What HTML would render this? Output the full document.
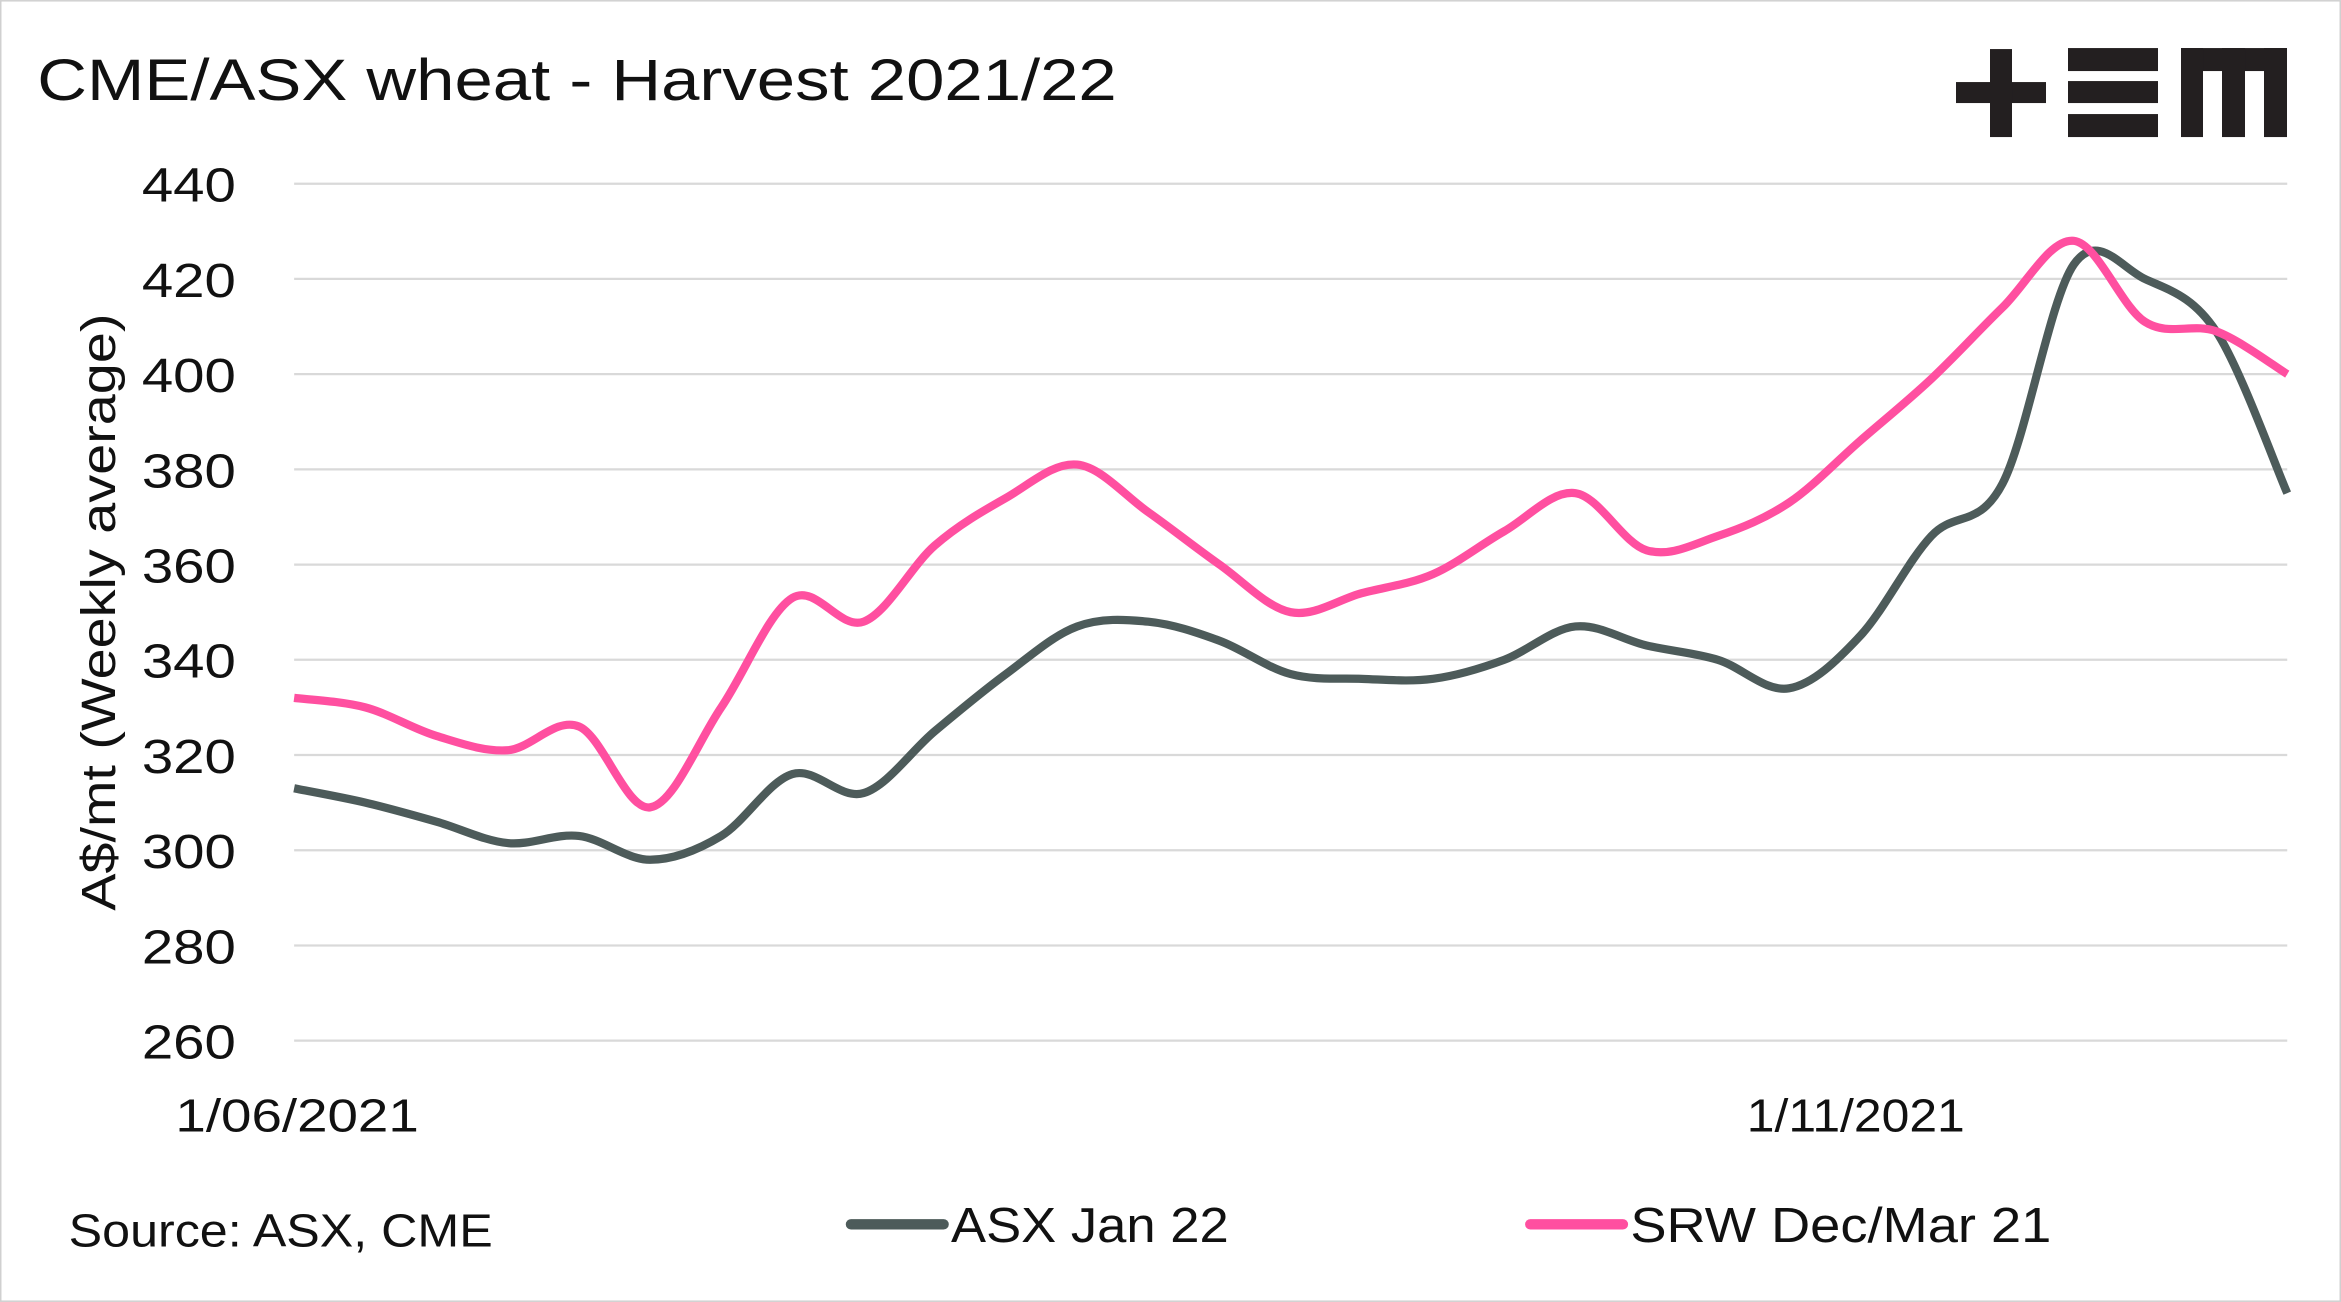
<!DOCTYPE html>
<html><head><meta charset="utf-8"><style>
html,body{margin:0;padding:0;background:#fff}
svg{display:block}
text{font-family:"Liberation Sans",sans-serif;fill:#111}
</style></head><body>
<svg id="chart" width="2341" height="1302" viewBox="0 0 1568 872" xmlns="http://www.w3.org/2000/svg">
<rect x="0.5" y="0.5" width="1567" height="871" fill="#fff" stroke="#d0d0d0"/>
<text x="25" y="67" font-size="39" textLength="723" lengthAdjust="spacingAndGlyphs">CME/ASX wheat - Harvest 2021/22</text>
<g transform="scale(0.66980)" fill="#231f20">
<rect x="1956" y="82" width="90" height="21"/><rect x="1990" y="49" width="22" height="88"/>
<rect x="2068" y="48" width="90" height="23"/><rect x="2068" y="81" width="90" height="22"/><rect x="2068" y="114" width="90" height="23"/>
<rect x="2181" y="48" width="106" height="23"/><rect x="2181" y="48" width="22" height="89"/><rect x="2222" y="48" width="23" height="89"/><rect x="2264" y="48" width="23" height="89"/>
</g>
<g id="grid"></g><g id="yticks"></g><g id="series"></g>
<text transform="translate(77,410) rotate(-90)" text-anchor="middle" font-size="32" textLength="400" lengthAdjust="spacingAndGlyphs">A$/mt (Weekly average)</text>
<text x="199" y="758" text-anchor="middle" font-size="31" textLength="163" lengthAdjust="spacingAndGlyphs">1/06/2021</text>
<text x="1243" y="758" text-anchor="middle" font-size="31" textLength="146" lengthAdjust="spacingAndGlyphs">1/11/2021</text>
<text x="46" y="835" font-size="31" textLength="284" lengthAdjust="spacingAndGlyphs">Source: ASX, CME</text>
<g><line x1="570" y1="820" x2="632" y2="820" stroke="#4d5b5a" stroke-width="7" stroke-linecap="round"/><text x="637" y="832" font-size="33" textLength="186" lengthAdjust="spacingAndGlyphs">ASX Jan 22</text></g>
<g><line x1="1025" y1="820" x2="1087" y2="820" stroke="#ff4fa0" stroke-width="7" stroke-linecap="round"/><text x="1092" y="832" font-size="33" textLength="282" lengthAdjust="spacingAndGlyphs">SRW Dec/Mar 21</text></g>
</svg>
<script>
const yTicks=[260,280,300,320,340,360,380,400,420,440];
const asx=[313,310,306,301.5,303,298,303,316,312,325,337,347,348,344,337,336,336,340,347,343,340,334,345,366,377,423,420,409,375];
const srw=[332,330,324,321,326,309,330,353,348,364,374,381,371,360,350,354,358,367,375,363,366,373,386,399,414,428,411,409,400];
const X0=197,X1=1532,Y0=697,Y1=123;
const x=i=>X0+(X1-X0)*i/(asx.length-1);
const y=v=>Y0+(Y1-Y0)*(v-260)/180;
const NS="http://www.w3.org/2000/svg";
const grid=document.getElementById('grid'),yt=document.getElementById('yticks'),ser=document.getElementById('series');
yTicks.forEach(t=>{
 const l=document.createElementNS(NS,'line');
 l.setAttribute('x1',X0);l.setAttribute('x2',X1);l.setAttribute('y1',y(t));l.setAttribute('y2',y(t));
 l.setAttribute('stroke','#d9d9d9');l.setAttribute('stroke-width','1.5');
 
 
 grid.appendChild(l);
 const tx=document.createElementNS(NS,'text');
 tx.setAttribute('x',158);tx.setAttribute('y',y(t)+12);tx.setAttribute('text-anchor','end');tx.setAttribute('font-size','32');
 tx.setAttribute('textLength','63');tx.setAttribute('lengthAdjust','spacingAndGlyphs');
 tx.textContent=t;
 
 
 yt.appendChild(tx);
});
function path(d){
 const p=d.map((v,i)=>[x(i),y(v)]);
 let s=`M${p[0][0]},${p[0][1]}`;
 for(let i=0;i<p.length-1;i++){
  const a=p[Math.max(0,i-1)],b=p[i],c=p[i+1],e=p[Math.min(p.length-1,i+2)];
  s+=` C${b[0]+(c[0]-a[0])/6},${b[1]+(c[1]-a[1])/6} ${c[0]-(e[0]-b[0])/6},${c[1]-(e[1]-b[1])/6} ${c[0]},${c[1]}`;
 }
 return s;
}
[[asx,'#4d5b5a','asx-line'],[srw,'#ff4fa0','srw-line']].forEach(([d,c,n])=>{
 const el=document.createElementNS(NS,'path');
 el.setAttribute('d',path(d));el.setAttribute('fill','none');el.setAttribute('stroke',c);el.setAttribute('stroke-width','5.5');el.setAttribute('stroke-linejoin','round');
 
 
 ser.appendChild(el);
});
</script>
</body></html>
